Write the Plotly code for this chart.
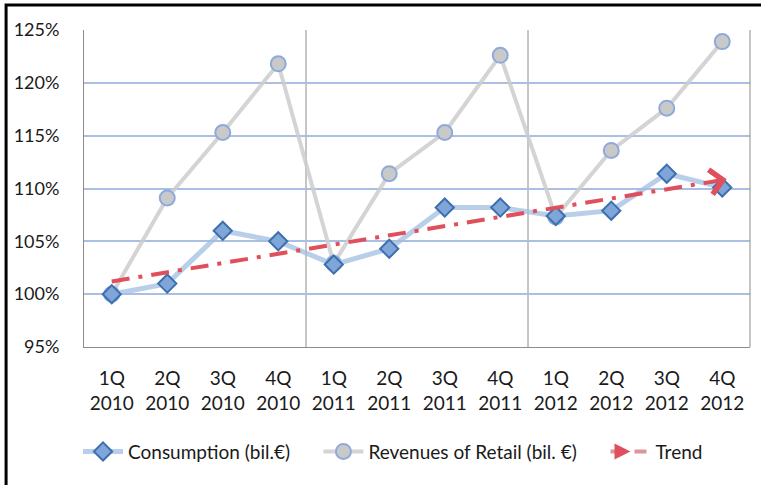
import plotly.graph_objects as go

quarters = ["1Q<br>2010", "2Q<br>2010", "3Q<br>2010", "4Q<br>2010",
            "1Q<br>2011", "2Q<br>2011", "3Q<br>2011", "4Q<br>2011",
            "1Q<br>2012", "2Q<br>2012", "3Q<br>2012", "4Q<br>2012"]
consumption = [100.0, 101.0, 106.0, 105.0, 102.8, 104.3, 108.2, 108.2, 107.4, 107.9, 111.4, 110.1]
retail = [100.0, 109.1, 115.3, 121.8, 102.9, 111.4, 115.3, 122.6, 107.3, 113.6, 117.6, 123.9]
trend_x = [quarters[0], quarters[-1]]
trend_y = [101.2, 110.8]
y_ticks = [95, 100, 105, 110, 115, 120, 125]
y_labels = [f"{v}%" for v in y_ticks]

FONT = "Lato"
RED = "#e0505c"

fig = go.Figure()
fig.add_trace(go.Scatter(
    x=quarters, y=retail, name="Revenues of Retail (bil. €)", mode="lines+markers",
    legend="legend2",
    line=dict(color="rgba(205,205,205,0.85)", width=4),
    marker=dict(symbol="circle", size=15, color="#c9c9c9",
                line=dict(color="#8eaadb", width=2)),
))
fig.add_trace(go.Scatter(
    x=quarters, y=consumption, name="Consumption (bil.€)", mode="lines+markers",
    legend="legend",
    line=dict(color="rgba(160,190,225,0.75)", width=5),
    marker=dict(symbol="diamond", size=14, color="#7fa6d8",
                line=dict(color="#3e6fae", width=2)),
))
fig.add_trace(go.Scatter(
    x=trend_x, y=trend_y, mode="lines", showlegend=False,
    line=dict(color=RED, width=4, dash="18px,9px,4px,9px"),
))
# legend-only entry for the trend
fig.add_trace(go.Scatter(
    x=[None], y=[None], name="Trend", mode="lines+markers", legend="legend3",
    line=dict(color="rgba(214,120,138,0.8)", width=4, dash="dash"),
    marker=dict(symbol="arrow-right", size=16, color=RED),
))

# arrow head at the end of the trend line
step = (trend_y[-1] - trend_y[0]) / (len(quarters) - 1)
slope_px = step * (485 - 138 - 30) / 30 / (666 / 12)
fig.add_annotation(
    x=len(quarters) - 1 + 0.08, y=trend_y[-1] + 0.08 * step,
    xref="x", yref="y", ax=-16, ay=16 * slope_px, text="",
    showarrow=True, arrowhead=4, arrowsize=1.6, arrowwidth=3, arrowcolor=RED,
)

shapes = [
    # quarter-year separators
    dict(type="line", xref="x", yref="paper", x0=3.5, x1=3.5, y0=0, y1=1,
         line=dict(color="#8c8c8c", width=1), layer="below"),
    dict(type="line", xref="x", yref="paper", x0=7.5, x1=7.5, y0=0, y1=1,
         line=dict(color="#8c8c8c", width=1), layer="below"),
    # right edge of plot frame
    dict(type="line", xref="paper", yref="paper", x0=1, x1=1, y0=0, y1=1,
         line=dict(color="#8c8c8c", width=1)),
    # outer black frame (cut at right and bottom)
    dict(type="rect", xref="paper", yref="paper", x0=-0.117, x1=1.2, y0=-0.6, y1=1.079,
         line=dict(color="black", width=3)),
]

leg = dict(orientation="h", xanchor="left", y=-0.33, yanchor="middle",
           font=dict(size=19), itemwidth=40, bgcolor="rgba(0,0,0,0)")

fig.update_layout(
    width=761, height=485,
    margin=dict(l=84, r=11, t=30, b=138, autoexpand=False),
    paper_bgcolor="white", plot_bgcolor="white",
    font=dict(family=FONT, size=17, color="#1a1a1a"),
    showlegend=True,
    legend=dict(leg, x=-0.009),
    legend2=dict(leg, x=0.352),
    legend3=dict(leg, x=0.783),
    shapes=shapes,
    xaxis=dict(
        type="category", range=[-0.5, 11.5], showgrid=False, automargin=False,
        showline=True, linecolor="#8c8c8c", linewidth=1, ticks="",
        tickfont=dict(size=19), ticklabelstandoff=14, fixedrange=True,
    ),
    yaxis=dict(
        range=[95, 125], tickvals=y_ticks, ticktext=y_labels, automargin=False,
        showgrid=True, gridcolor="#a9c0e4", gridwidth=1.5,
        showline=True, linecolor="#8c8c8c", linewidth=1, zeroline=False,
        tickfont=dict(size=18), ticklabelstandoff=20, fixedrange=True,
    ),
)

fig.write_html("out.html", config={"displayModeBar": False},
               post_script="document.body.style.margin='0';")
